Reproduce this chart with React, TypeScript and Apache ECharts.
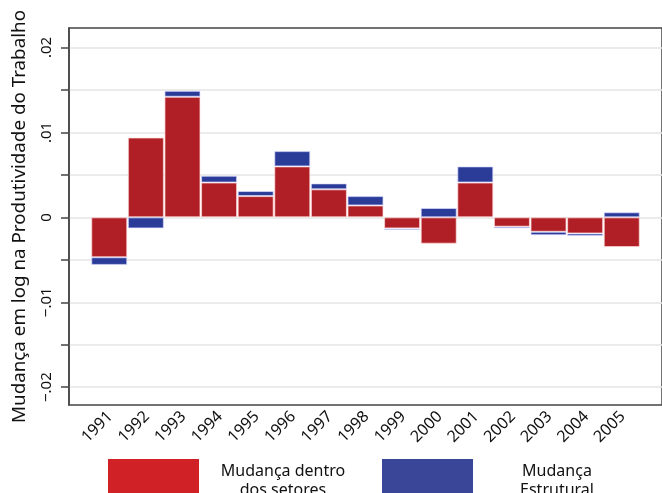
import React, { useEffect, useRef } from "react";
import * as echarts from "echarts";

const years = [1991, 1992, 1993, 1994, 1995, 1996, 1997, 1998, 1999, 2000, 2001, 2002, 2003, 2004, 2005];
const withinSectors = [-0.0047, 0.0094, 0.0142, 0.0041, 0.0025, 0.0060, 0.0033, 0.0014, -0.0013, -0.0031, 0.0041, -0.0011, -0.0017, -0.0019, -0.0035];
const structural = [-0.0009, -0.0013, 0.0007, 0.0008, 0.0006, 0.0018, 0.0007, 0.0011, -0.0002, 0.0011, 0.0019, -0.0002, -0.0004, -0.0003, 0.0006];
const yTicks = [-0.02, -0.015, -0.01, -0.005, 0, 0.005, 0.01, 0.015, 0.02];
const yLabels = [-0.02, -0.01, 0, 0.01, 0.02];
const seriesNames = ["Mudança dentro\ndos setores", "Mudança\nEstrutural"];
const legendColors = ["#D02127", "#3A4799"];
const barColors = ["#B01F25", "#2A3C98"];
const yTitle = "Mudança em log na Produtividade do Trabalho";

const fmtY = (v: number) => {
  if (Math.abs(v) < 1e-9) return "0";
  const s = Math.abs(v).toFixed(2).replace(/^0/, "");
  return (v < 0 ? "\u2212" : "") + s;
};

export default function App() {
  const ref = useRef<HTMLDivElement>(null);
  useEffect(() => {
    if (!ref.current) return;
    const chart = echarts.init(ref.current, null, { renderer: "svg" });
    const font = "'Noto Sans', 'Open Sans', sans-serif";
    const legendFor = (i: number, left: number) => ({
      left,
      top: 459,
      padding: 0,
      itemWidth: 91,
      itemHeight: 41,
      icon: "rect",
      selectedMode: false,
      data: [{ name: seriesNames[i], itemStyle: { color: legendColors[i], borderWidth: 0 } }],
      formatter: (name: string) =>
        name
          .split("\n")
          .map((l) => "{c|" + l + "}")
          .join("\n"),
      textStyle: {
        width: 158,
        rich: {
          c: {
            align: "center",
            fontSize: 16,
            lineHeight: 19,
            color: "#111",
            fontFamily: font,
          },
        },
      },
    });
    chart.setOption({
      animation: false,
      textStyle: { fontFamily: font },
      grid: {
        left: 66,
        right: -11,
        top: 28,
        bottom: 135,
        show: true,
        borderColor: "#444",
        borderWidth: 1.5,
        containLabel: false,
      },
      legend: [legendFor(0, 108), legendFor(1, 382)],
      xAxis: {
        type: "value",
        min: 1989.9,
        max: 2006.1,
        axisLine: { show: false },
        axisTick: { show: false },
        splitLine: { show: false },
        axisLabel: {
          customValues: years,
          rotate: 45,
          margin: 8,
          fontSize: 16,
          color: "#111",
          formatter: (v: number) => String(v),
        },
      },
      yAxis: {
        type: "value",
        min: -0.0221,
        max: 0.0223,
        splitNumber: 9,
        minInterval: 0.005,
        maxInterval: 0.005,
        name: yTitle,
        nameLocation: "middle",
        nameGap: 42,
        nameRotate: 90,
        nameTextStyle: { fontSize: 18.8, color: "#111", fontFamily: font },
        axisLine: { show: true, lineStyle: { color: "#444", width: 1.5 } },
        axisTick: {
          show: true,
          customValues: yTicks,
          length: 8,
          lineStyle: { color: "#444", width: 1.5 },
        },
        splitLine: { show: true, lineStyle: { color: "#e4e4e4", width: 1.5 } },
        axisLabel: {
          customValues: yLabels,
          rotate: 90,
          margin: 17,
          fontSize: 15,
          color: "#111",
          formatter: fmtY,
        },
      },
      series: [
        {
          name: seriesNames[0],
          type: "bar",
          stack: "total",
          barWidth: 36,
          encode: { x: 1, y: 0 },
          itemStyle: { color: barColors[0], borderColor: "rgba(255,220,220,0.7)", borderWidth: 1 },
          data: years.map((y, i) => [withinSectors[i], y]),
        },
        {
          name: seriesNames[1],
          type: "bar",
          stack: "total",
          barWidth: 36,
          encode: { x: 1, y: 0 },
          itemStyle: { color: barColors[1], borderColor: "rgba(220,220,255,0.7)", borderWidth: 1 },
          data: years.map((y, i) => [structural[i], y]),
        },
      ],
    });
    return () => chart.dispose();
  }, []);
  return (
    <div
      ref={ref}
      style={{ position: "fixed", left: 0, top: 0, width: 662, height: 540 }}
    />
  );
}
